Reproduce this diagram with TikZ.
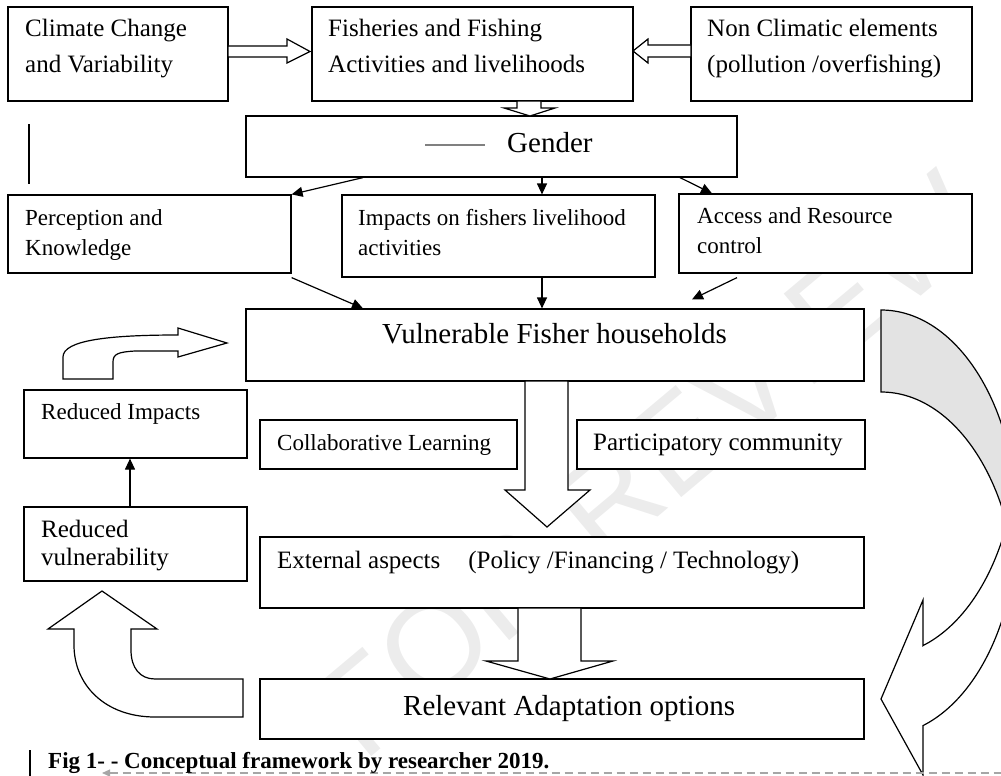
\documentclass[tikz,border=0pt]{standalone}
\usepackage{fontspec}
\setmainfont{Liberation Serif}
\newfontfamily\wmfont{Liberation Sans}
\usepackage{tikz}
\usetikzlibrary{arrows.meta}
\usetikzlibrary{positioning}

\tikzset{
	boxed/.style = {draw, line width = 1.2pt, fill = white, inner sep = 0pt},
	txt/.style = {anchor = base west, inner sep = 0pt},
	fsmall/.style = {font = \fontsize{23}{30}\selectfont},
	fmed/.style = {font = \fontsize{25}{35}\selectfont},
	fbig/.style = {font = \fontsize{29}{35}\selectfont},
	arr/.style = {-{Triangle[length = 11pt, width = 10pt]}, line width = 1.2pt},
	blk/.style = {draw, fill = white, line width = 1.2pt}
}

\begin{document}
\begin{tikzpicture}[x = 1pt, y = -1pt]
			\useasboundingbox (0, 0) rectangle (1001, 776);
			\clip (0, 0) rectangle (1001, 776);
			%\draw[help lines, step = 50] (0, 0) grid (1001, 776);
			
			% watermark
			\node[gray!15, rotate = 40, font = \wmfont\fontsize{130}{130}\selectfont] (wmark) at (650, 465) {FOR REVIEW};
			
			% boxes
			\node[boxed, minimum width = 220pt, minimum height = 94pt] (climate) at (118, 54) {};
			\node[boxed, minimum width = 321pt, minimum height = 94pt] (fish) at (472.5, 54) {};
			\node[boxed, minimum width = 281pt, minimum height = 94pt] (nonclim) at (831.5, 54) {};
			\node[boxed, minimum width = 491pt, minimum height = 61pt] (gender) at (491.5, 146.5) {};
			\node[boxed, minimum width = 283pt, minimum height = 78pt] (perc) at (149.5, 234) {};
			\node[boxed, minimum width = 313pt, minimum height = 82pt] (impact) at (498.5, 236) {};
			\node[boxed, minimum width = 293pt, minimum height = 79pt] (access) at (825.5, 233.5) {};
			\node[boxed, minimum width = 618pt, minimum height = 72pt] (vuln) at (555, 345) {};
			\node[boxed, minimum width = 223pt, minimum height = 68pt] (redimp) at (135.5, 424) {};
			\node[boxed, minimum width = 257pt, minimum height = 49pt] (collab) at (388.5, 444.5) {};
			\node[boxed, minimum width = 288pt, minimum height = 49pt] (partic) at (721, 444.5) {};
			\node[boxed, minimum width = 223pt, minimum height = 74pt] (redvul) at (135.5, 544) {};
			\node[boxed, minimum width = 604pt, minimum height = 71pt] (ext) at (562, 572.5) {};
			\node[boxed, minimum width = 604pt, minimum height = 60pt] (relev) at (562, 709) {};
			
			% block arrows
			\draw[blk] (228, 46) -- (287, 46) -- (287, 39) -- (310, 51.5) -- (287, 63) -- (287, 57) -- (228, 57) -- cycle;
			\draw[blk] (691, 45) -- (648, 45) -- (648, 39) -- (633, 51) -- (648, 63) -- (648, 57) -- (691, 57) -- cycle;
			\draw[blk] (517, 101) -- (517, 108) -- (504, 108) -- (530, 116) -- (555, 108) -- (541, 108) -- (541, 101) -- cycle;
			\draw[blk] (525, 381) -- (525, 490) -- (505, 490) -- (547, 527) -- (590, 490) -- (568, 490) -- (568, 381) -- cycle;
			\draw[blk] (518, 608) -- (518, 661) -- (486, 661) -- (550, 679) -- (613, 661) -- (581, 661) -- (581, 608) -- cycle;
			
			% loop back arrows on the left
			\draw[blk] (63, 379) -- (63, 357) .. controls (63, 340) and (110, 335) .. (178, 335) -- (178, 328) -- (227, 343)
				-- (178, 357) -- (178, 351) -- (135, 351) .. controls (118, 352) and (113, 354) .. (113, 362) -- (113, 379) -- cycle;
			\draw[blk] (243, 717) -- (155, 717) .. controls (105, 717) and (74, 685) .. (74, 645) -- (74, 629) -- (48, 629)
				-- (102, 591) -- (157, 629) -- (131, 629) -- (131, 650) .. controls (131, 668) and (140, 679) .. (155, 679) -- (243, 679) -- cycle;
			
			% big curved arrow on the right
			\draw[line width = 1.2pt, fill = gray!22] (881, 310) arc[start angle = 90, end angle = 0, x radius = 136pt, y radius = 213pt]
				-- (1017, 605) arc[start angle = 0, end angle = 90, x radius = 136pt, y radius = 213pt] -- cycle;
			\draw[blk] (923, 645.6) -- (923, 600) -- (881, 699) -- (923, 775) -- (923, 725.6)
				arc[start angle = -72, end angle = 0, x radius = 136pt, y radius = 213pt]
				-- (1017, 443) arc[start angle = 0, end angle = -72, x radius = 136pt, y radius = 213pt] -- cycle;
			
			% thin arrows
			\draw[arr] ([xshift = -128.5pt]gender.south) -- (perc.north east);
			\draw[arr] ([xshift = 50.5pt]gender.south) -- ([xshift = 43.5pt]impact.north);
			\draw[arr] ([xshift = 188.5pt]gender.south) -- ([xshift = -113.5pt]access.north);
			\draw[arr] ([yshift = -4pt]perc.south east) -- ([xshift = -192pt]vuln.north);
			\draw[arr] ([xshift = 43.5pt]impact.south) -- ([xshift = -13pt]vuln.north);
			\draw[arr] ([xshift = -88.5pt, yshift = -4pt]access.south) -- ([xshift = 137pt, yshift = 9pt]vuln.north);
			\draw[arr] ([xshift = -5.5pt]redvul.north) -- ([xshift = -5.5pt]redimp.south);
			
			% stray marks
			\draw[line width = 2pt] (29, 124) -- (29, 184);
			\draw[gray, line width = 1.3pt] (425, 145) -- (485, 145);
			\draw[line width = 2pt] (30, 750) -- (30, 776);
			\draw[gray!70, line width = 1.2pt, dash pattern = on 8pt off 5pt, {Triangle[length = 8pt, width = 7pt]}-] (102, 773) -- (1001, 773);
			
			% texts
			\node[txt, fmed] (climate1) at (25, 37) {Climate Change};
			\node[txt, fmed] (climate2) at (25, 72) {and Variability};
			\node[txt, fmed] (fish1) at (328, 37) {Fisheries and Fishing};
			\node[txt, fmed] (fish2) at (328, 72) {Activities and livelihoods};
			\node[txt, fmed] (nonclim1) at (707, 37) {Non Climatic elements};
			\node[txt, fmed] (nonclim2) at (707, 72) {(pollution /overfishing)};
			\node[txt, fbig] (gender1) at (507, 152) {Gender};
			\node[txt, fsmall] (perc1) at (25, 225) {Perception and};
			\node[txt, fsmall] (perc2) at (25, 255) {Knowledge};
			\node[txt, fsmall] (impact1) at (358, 225) {Impacts on fishers livelihood};
			\node[txt, fsmall] (impact2) at (358, 255) {activities};
			\node[txt, fsmall] (access1) at (697, 223) {Access and Resource};
			\node[txt, fsmall] (access2) at (697, 253) {control};
			\node[txt, fbig] (vuln1) at (382, 343) {Vulnerable Fisher households};
			\node[txt, fsmall] (redimp1) at (41, 419) {Reduced Impacts};
			\node[txt, fsmall] (collab1) at (277, 450) {Collaborative Learning};
			\node[txt, fmed] (partic1) at (593, 450) {Participatory community};
			\node[txt, fmed] (redvul1) at (41, 537) {Reduced};
			\node[txt, fmed] (redvul2) at (41, 565) {vulnerability};
			\node[txt, fmed] (ext1) at (277, 568) {External aspects\hspace{28pt}(Policy /Financing / Technology)};
			\node[txt, fbig] (relev1) at (403, 715) {Relevant Adaptation options};
			\node[txt, font = \bfseries\fontsize{23}{28}\selectfont] (caption) at (48, 768) {Fig 1- - Conceptual framework by researcher 2019.};
			
		\end{tikzpicture}
\end{document}
